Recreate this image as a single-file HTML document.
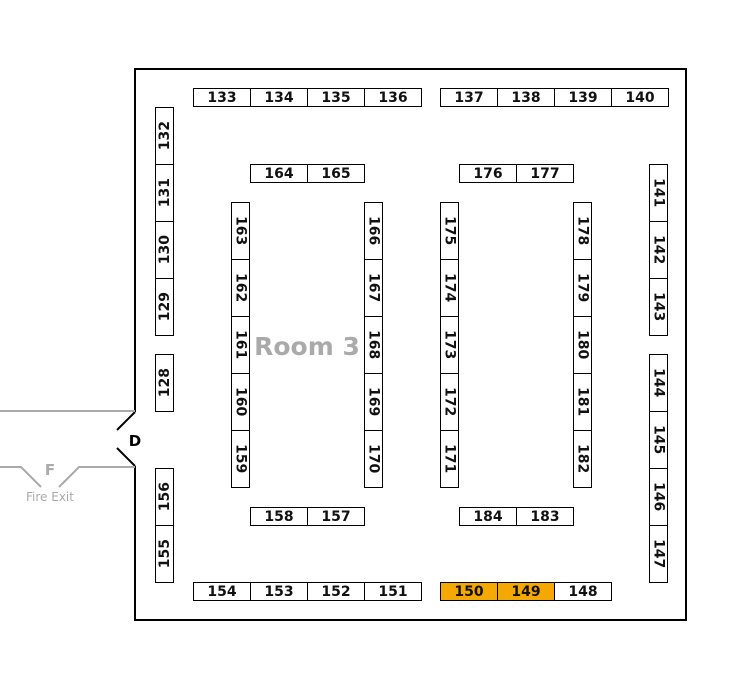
<!DOCTYPE html>
<html><head><meta charset="utf-8"><style>
body{margin:0;width:755px;height:689px;background:#fff;position:relative;overflow:hidden;font-family:"DejaVu Sans","Liberation Sans",sans-serif;}
.b{position:absolute;box-sizing:border-box;border:1px solid #000;background:#fff;font-weight:bold;font-size:14px;display:flex;align-items:center;justify-content:center;color:#111;}
.h{width:58px;height:19px;}
.v{width:19px;height:58px;}
.v span{writing-mode:vertical-rl;}
.l span{transform:rotate(180deg);}
.o{background:#f5a800;}
</style></head><body>
<svg width="755" height="689" style="position:absolute;left:0;top:0">
<path d="M135,412 V69 H686 V620 H135 V466" fill="none" stroke="#000" stroke-width="2"/>
<path d="M135,412 L117,430 M135,466 L117,448" stroke="#000" stroke-width="2"/>
<path d="M0,411 H135 M0,467 H21 L41,487 M59,487 L79,467 H135" fill="none" stroke="#aaa" stroke-width="2"/>
<text x="135" y="446" text-anchor="middle" font-family="DejaVu Sans,sans-serif" font-weight="bold" font-size="15">D</text>
<text x="50" y="475" text-anchor="middle" font-family="DejaVu Sans,sans-serif" font-weight="bold" font-size="15" fill="#aaa">F</text>
<text x="50" y="501" text-anchor="middle" font-family="DejaVu Sans,sans-serif" font-size="12" fill="#aaa">Fire Exit</text>
<text x="307" y="355" text-anchor="middle" font-family="DejaVu Sans,sans-serif" font-weight="bold" font-size="25" fill="#aaa">Room 3</text>
</svg>
<!-- top row -->
<div class="b h" style="left:193px;top:88px">133</div>
<div class="b h" style="left:250px;top:88px">134</div>
<div class="b h" style="left:307px;top:88px">135</div>
<div class="b h" style="left:364px;top:88px">136</div>
<div class="b h" style="left:440px;top:88px">137</div>
<div class="b h" style="left:497px;top:88px">138</div>
<div class="b h" style="left:554px;top:88px">139</div>
<div class="b h" style="left:611px;top:88px">140</div>
<!-- left column -->
<div class="b v l" style="left:155px;top:107px"><span>132</span></div>
<div class="b v l" style="left:155px;top:164px"><span>131</span></div>
<div class="b v l" style="left:155px;top:221px"><span>130</span></div>
<div class="b v l" style="left:155px;top:278px"><span>129</span></div>
<div class="b v l" style="left:155px;top:354px"><span>128</span></div>
<div class="b v l" style="left:155px;top:468px"><span>156</span></div>
<div class="b v l" style="left:155px;top:525px"><span>155</span></div>
<!-- inner top -->
<div class="b h" style="left:250px;top:164px">164</div>
<div class="b h" style="left:307px;top:164px">165</div>
<div class="b h" style="left:459px;top:164px">176</div>
<div class="b h" style="left:516px;top:164px">177</div>
<!-- col 1 -->
<div class="b v" style="left:231px;top:202px"><span>163</span></div>
<div class="b v" style="left:231px;top:259px"><span>162</span></div>
<div class="b v" style="left:231px;top:316px"><span>161</span></div>
<div class="b v" style="left:231px;top:373px"><span>160</span></div>
<div class="b v" style="left:231px;top:430px"><span>159</span></div>
<!-- col 2 -->
<div class="b v" style="left:364px;top:202px"><span>166</span></div>
<div class="b v" style="left:364px;top:259px"><span>167</span></div>
<div class="b v" style="left:364px;top:316px"><span>168</span></div>
<div class="b v" style="left:364px;top:373px"><span>169</span></div>
<div class="b v" style="left:364px;top:430px"><span>170</span></div>
<!-- col 3 -->
<div class="b v" style="left:440px;top:202px"><span>175</span></div>
<div class="b v" style="left:440px;top:259px"><span>174</span></div>
<div class="b v" style="left:440px;top:316px"><span>173</span></div>
<div class="b v" style="left:440px;top:373px"><span>172</span></div>
<div class="b v" style="left:440px;top:430px"><span>171</span></div>
<!-- col 4 -->
<div class="b v" style="left:573px;top:202px"><span>178</span></div>
<div class="b v" style="left:573px;top:259px"><span>179</span></div>
<div class="b v" style="left:573px;top:316px"><span>180</span></div>
<div class="b v" style="left:573px;top:373px"><span>181</span></div>
<div class="b v" style="left:573px;top:430px"><span>182</span></div>
<!-- inner bottom -->
<div class="b h" style="left:250px;top:507px">158</div>
<div class="b h" style="left:307px;top:507px">157</div>
<div class="b h" style="left:459px;top:507px">184</div>
<div class="b h" style="left:516px;top:507px">183</div>
<!-- right column -->
<div class="b v" style="left:649px;top:164px"><span>141</span></div>
<div class="b v" style="left:649px;top:221px"><span>142</span></div>
<div class="b v" style="left:649px;top:278px"><span>143</span></div>
<div class="b v" style="left:649px;top:354px"><span>144</span></div>
<div class="b v" style="left:649px;top:411px"><span>145</span></div>
<div class="b v" style="left:649px;top:468px"><span>146</span></div>
<div class="b v" style="left:649px;top:525px"><span>147</span></div>
<!-- bottom row -->
<div class="b h" style="left:193px;top:582px">154</div>
<div class="b h" style="left:250px;top:582px">153</div>
<div class="b h" style="left:307px;top:582px">152</div>
<div class="b h" style="left:364px;top:582px">151</div>
<div class="b h o" style="left:440px;top:582px">150</div>
<div class="b h o" style="left:497px;top:582px">149</div>
<div class="b h" style="left:554px;top:582px">148</div>
</body></html>
